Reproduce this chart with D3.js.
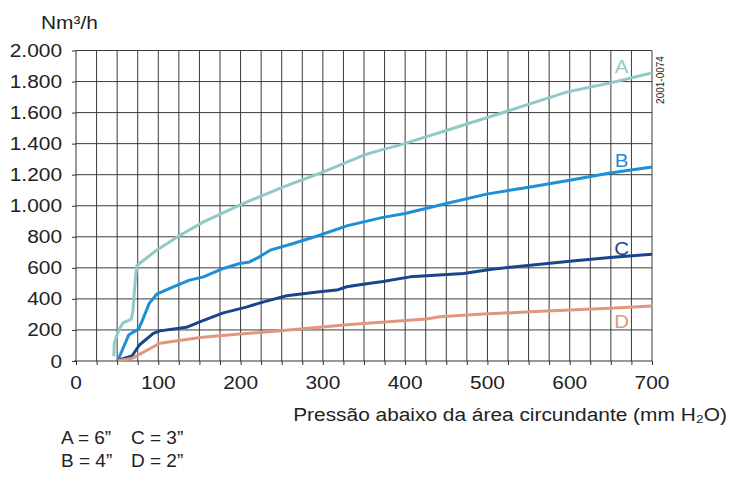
<!DOCTYPE html>
<html>
<head>
<meta charset="utf-8">
<script src="https://cdn.jsdelivr.net/npm/d3@7"></script>
<style>
  body { margin: 0; background: #fff; }
  svg { display: block; font-family: "Liberation Sans", Arial, sans-serif; }
</style>
</head>
<body>
<div id="vis"></div>
<script>
// values (x: mm H2O, y: Nm3/h)
var curveA = [[46,30],[46.5,115],[52,200],[57,245],[67,268],[69,315],[72,520],[74,615],
  [98,714],[126,808],[155,896],[203,1014],[252,1121],[300,1217],[349,1325],[369,1357],
  [394,1392],[450,1485],[527,1614],[596,1732],[653,1796],[700,1856]];
var curveB = [[51,5],[64,167],[67,178],[76,205],[80,253],[89,371],[98,430],[116,472],
  [138,521],[155,542],[179,596],[199,628],[211,638],[223,671],[236,714],[264,757],
  [296,810],[330,872],[373,925],[400,950],[450,1014],[499,1075],[552,1121],[600,1164],
  [649,1211],[700,1249]];
var curveC = [[51,5],[68,32],[77,103],[94,178],[102,194],[134,217],[155,262],[179,310],
  [207,347],[228,381],[256,420],[296,446],[317,457],[329,478],[349,495],[373,512],
  [406,542],[471,564],[503,590],[552,617],[600,643],[649,667],[700,688]];
var curveD = [[51,3],[68,17],[102,114],[130,135],[151,152],[199,174],[211,178],[272,206],
  [333,235],[426,270],[442,285],[495,302],[552,317],[600,328],[649,339],[700,354]];

var seriesNames = ['A', 'B', 'C', 'D'];
var seriesColors = ['#8fcac6', '#1b8fd7', '#17468f', '#e0977d'];
var labelY = [1900, 1295, 730, 255];

var xTicks = [0, 100, 200, 300, 400, 500, 600, 700];
var yTicks = [0, 200, 400, 600, 800, 1000, 1200, 1400, 1600, 1800, 2000];
var yTickLabels = ['0', '200', '400', '600', '800', '1.000', '1.200', '1.400', '1.600', '1.800', '2.000'];
var legendRows = [['A = 6\u201D', 'C = 3\u201D'], ['B = 4\u201D', 'D = 2\u201D']];

var width = 730, height = 477;
// the reference type is a bit wider than Liberation Sans
var stretch = 1.16;

var svg = d3.select('#vis').append('svg')
  .attr('width', width)
  .attr('height', height);

var x = d3.scaleLinear().domain([0, 700]).range([76, 652]);
var y = d3.scaleLinear().domain([0, 2000]).range([361, 50.5]);

// grid
var grid = svg.append('g').attr('stroke', '#3a3a3a').attr('stroke-width', 1);
grid.selectAll('line.v')
  .data(d3.range(25, 701, 25)).enter()
  .append('line')
  .attr('class', 'v')
  .attr('x1', d => x(d)).attr('x2', d => x(d))
  .attr('y1', y(0)).attr('y2', y(2000));
grid.selectAll('line.h')
  .data(yTicks.slice(1)).enter()
  .append('line')
  .attr('class', 'h')
  .attr('x1', x(0)).attr('x2', x(700))
  .attr('y1', d => y(d)).attr('y2', d => y(d));

// axes
var xAxis = d3.axisBottom(x)
  .tickValues(d3.range(0, 701, 25))
  .tickSize(4)
  .tickFormat('');
var gx = svg.append('g')
  .attr('transform', 'translate(0,' + y(0) + ')')
  .call(xAxis);
gx.select('.domain').attr('d', 'M' + (x(0) - 2) + ',0H' + x(700));

var yAxis = d3.axisLeft(y)
  .tickValues(yTicks)
  .tickSize(4)
  .tickFormat('');
var gy = svg.append('g')
  .attr('transform', 'translate(' + x(0) + ',0)')
  .call(yAxis);
gy.select('.domain').attr('d', 'M0,' + y(0) + 'V' + y(2000));
svg.selectAll('.tick line, .domain').attr('stroke', '#333');

svg.append('g').selectAll('text')
  .data(xTicks).enter()
  .append('text')
  .attr('transform', d => 'translate(' + x(d) + ',389) scale(' + stretch + ',1)')
  .attr('text-anchor', 'middle')
  .attr('font-size', 18)
  .attr('fill', '#222')
  .text(d => d);

svg.append('g').selectAll('text')
  .data(yTicks).enter()
  .append('text')
  .attr('transform', d => 'translate(62,' + (y(d) + 6.5) + ') scale(' + stretch + ',1)')
  .attr('text-anchor', 'end')
  .attr('font-size', 18)
  .attr('fill', '#222')
  .text((d, i) => yTickLabels[i]);

svg.append('text')
  .attr('transform', 'translate(41,29) scale(' + stretch + ',1)')
  .attr('font-size', 18)
  .attr('fill', '#222')
  .text('Nm\u00B3/h');

svg.append('text')
  .attr('transform', 'translate(727,421) scale(' + stretch + ',1)')
  .attr('text-anchor', 'end')
  .attr('font-size', 18)
  .attr('fill', '#222')
  .text('Pressão abaixo da área circundante (mm H\u2082O)');

svg.append('text')
  .attr('transform', 'translate(664,80) rotate(-90)')
  .attr('text-anchor', 'middle')
  .attr('font-size', 10)
  .attr('fill', '#222')
  .text('2001-0074');

// curves
var line = d3.line()
  .x(d => x(d[0]))
  .y(d => y(d[1]));

var curves = [curveA, curveB, curveC, curveD];
svg.append('g').selectAll('path')
  .data(curves).enter()
  .append('path')
  .attr('d', line)
  .attr('fill', 'none')
  .attr('stroke', (d, i) => seriesColors[i])
  .attr('stroke-width', 3)
  .attr('stroke-linejoin', 'round');

svg.append('g').selectAll('text')
  .data(seriesNames).enter()
  .append('text')
  .attr('transform', (d, i) => 'translate(' + x(663) + ',' + (y(labelY[i]) + 7) + ') scale(1.08,1)')
  .attr('text-anchor', 'middle')
  .attr('font-size', 19)
  .attr('fill', (d, i) => seriesColors[i])
  .text(d => d);

// legend
legendRows.forEach(function (row, r) {
  row.forEach(function (t, c) {
    svg.append('text')
      .attr('x', 61 + c * 70)
      .attr('y', 444 + r * 23)
      .attr('font-size', 19)
      .attr('fill', '#222')
      .text(t);
  });
});
</script>
</body>
</html>
